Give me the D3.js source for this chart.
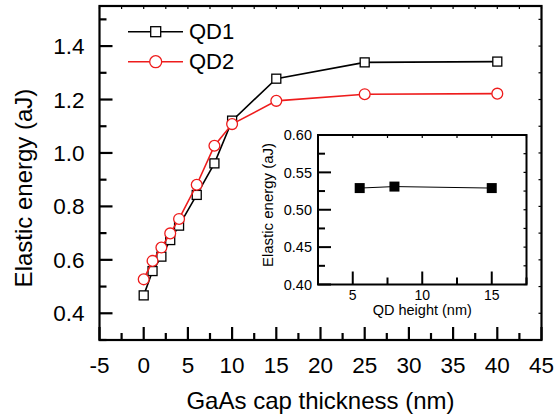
<!DOCTYPE html>
<html>
<head>
<meta charset="utf-8">
<script src="https://cdn.jsdelivr.net/npm/d3@7"></script>
<style>
  html, body { margin: 0; padding: 0; background: #fff; }
  svg { display: block; font-family: "Liberation Sans", Arial, sans-serif; }
</style>
</head>
<body>
<svg id="chart" width="558" height="418"></svg>
<script>
// ---- data ----
const capThickness = [0, 1, 2, 3, 4, 6, 8, 10, 15, 25, 40];
const qd1Energy = [0.467, 0.558, 0.612, 0.674, 0.728, 0.843, 0.961, 1.121, 1.278, 1.339, 1.342];
const qd2Energy = [0.527, 0.596, 0.646, 0.699, 0.753, 0.881, 1.027, 1.108, 1.195, 1.220, 1.222];
const seriesNames = ["QD1", "QD2"];
const xTicks = [-5, 0, 5, 10, 15, 20, 25, 30, 35, 40, 45];
const yTicks = [0.4, 0.6, 0.8, 1.0, 1.2, 1.4];
const insetHeight = [5.5, 8, 15];
const insetEnergy = [0.529, 0.531, 0.529];
const insetXTicks = [5, 10, 15];
const insetYTicks = [0.40, 0.45, 0.50, 0.55, 0.60];

const svg = d3.select("#chart");

// ---- main scales ----
const L = 99.5, R = 541.5, T = 6, B = 340;
const x = d3.scaleLinear().domain([-5, 45]).range([L, R]);
const y = d3.scaleLinear().domain([0.3, 1.55]).range([B, T]);

function drawAxes(g, xs, ys, opts) {
  const [x0, x1] = xs.range();
  const [y0, y1] = ys.range(); // y0 bottom, y1 top
  const lw = opts.lw;
  opts.xMinor.forEach(v => {
    const major = opts.xMajor.includes(v);
    g.append("line").attr("x1", xs(v)).attr("x2", xs(v))
      .attr("y1", y0).attr("y2", y0 - (major ? opts.majLen : opts.minLen))
      .attr("stroke", "#000").attr("stroke-width", lw);
    g.append("line").attr("x1", xs(v)).attr("x2", xs(v))
      .attr("y1", y1).attr("y2", y1 + opts.topLen)
      .attr("stroke", "#000").attr("stroke-width", 1.2);
  });
  opts.yMinor.forEach(v => {
    const major = opts.yMajor.some(m => Math.abs(m - v) < 1e-9);
    g.append("line").attr("y1", ys(v)).attr("y2", ys(v))
      .attr("x1", x0).attr("x2", x0 + (major ? opts.majLen : opts.minLen))
      .attr("stroke", "#000").attr("stroke-width", lw);
    g.append("line").attr("y1", ys(v)).attr("y2", ys(v))
      .attr("x1", x1).attr("x2", x1 - opts.topLen)
      .attr("stroke", "#000").attr("stroke-width", 1.2);
  });
  g.append("rect").attr("x", x0).attr("y", y1)
    .attr("width", x1 - x0).attr("height", y0 - y1)
    .attr("fill", "none").attr("stroke", "#000").attr("stroke-width", lw);
}

// main axes
const mainG = svg.append("g");
const xMinorMain = d3.range(-5, 45.01, 2.5);
const yMinorMain = d3.range(0.3, 1.551, 0.1).map(v => +v.toFixed(2));
drawAxes(mainG, x, y, {
  lw: 2.2, majLen: 13, minLen: 7, topLen: 3,
  xMinor: xMinorMain, xMajor: xTicks,
  yMinor: yMinorMain, yMajor: yTicks
});

mainG.selectAll(".xl").data(xTicks).enter().append("text")
  .attr("x", d => x(d)).attr("y", 373)
  .attr("text-anchor", "middle").attr("font-size", 22.5)
  .text(d => d);
mainG.selectAll(".yl").data(yTicks).enter().append("text")
  .attr("x", 84.5).attr("y", d => y(d) + 8)
  .attr("text-anchor", "end").attr("font-size", 22.5)
  .text(d => d.toFixed(1));

svg.append("text").attr("x", (L + R) / 2).attr("y", 409)
  .attr("text-anchor", "middle").attr("font-size", 24)
  .text("GaAs cap thickness (nm)");
svg.append("text").attr("transform", `translate(32,${(T + B) / 2 + 15}) rotate(-90)`)
  .attr("text-anchor", "middle").attr("font-size", 24)
  .text("Elastic energy (aJ)");

// ---- series ----
const line = d3.line().x(d => x(d[0])).y(d => y(d[1]));
const d1 = capThickness.map((c, i) => [c, qd1Energy[i]]);
const d2 = capThickness.map((c, i) => [c, qd2Energy[i]]);

svg.append("path").datum(d1).attr("d", line)
  .attr("fill", "none").attr("stroke", "#000").attr("stroke-width", 1.6);
svg.selectAll(".sq").data(d1).enter().append("rect")
  .attr("x", d => x(d[0]) - 4.5).attr("y", d => y(d[1]) - 4.5)
  .attr("width", 9).attr("height", 9)
  .attr("fill", "#fff").attr("stroke", "#000").attr("stroke-width", 1.3);

svg.append("path").datum(d2).attr("d", line)
  .attr("fill", "none").attr("stroke", "#ee1c1c").attr("stroke-width", 1.6);
svg.selectAll(".ci").data(d2).enter().append("circle")
  .attr("cx", d => x(d[0])).attr("cy", d => y(d[1])).attr("r", 5.4)
  .attr("fill", "#fff").attr("stroke", "#ee1c1c").attr("stroke-width", 1.3);

// ---- legend ----
const leg = svg.append("g");
const legY = [31.7, 61.7];
const legColors = ["#000", "#ee1c1c"];
seriesNames.forEach((name, i) => {
  leg.append("line").attr("x1", 128).attr("x2", 183)
    .attr("y1", legY[i]).attr("y2", legY[i])
    .attr("stroke", legColors[i]).attr("stroke-width", 1.6);
  if (i === 0) {
    leg.append("rect").attr("x", 155.7 - 5).attr("y", legY[i] - 5)
      .attr("width", 10).attr("height", 10)
      .attr("fill", "#fff").attr("stroke", "#000").attr("stroke-width", 1.3);
  } else {
    leg.append("circle").attr("cx", 155.7).attr("cy", legY[i]).attr("r", 6)
      .attr("fill", "#fff").attr("stroke", "#ee1c1c").attr("stroke-width", 1.3);
  }
  leg.append("text").attr("x", 189).attr("y", legY[i] + 7.5)
    .attr("font-size", 22).text(name);
});

// ---- inset ----
const iL = 318, iR = 526.5, iT = 135, iB = 284.5;
const ix = d3.scaleLinear().domain([2.5, 17.5]).range([iL, iR]);
const iy = d3.scaleLinear().domain([0.40, 0.60]).range([iB, iT]);
const inG = svg.append("g");
inG.append("rect").attr("x", iL).attr("y", iT).attr("width", iR - iL).attr("height", iB - iT)
  .attr("fill", "#fff");
drawAxes(inG, ix, iy, {
  lw: 2, majLen: 13, minLen: 7, topLen: 3,
  xMinor: d3.range(2.5, 17.51, 2.5), xMajor: insetXTicks,
  yMinor: d3.range(0.4, 0.601, 0.025).map(v => +v.toFixed(3)), yMajor: insetYTicks
});
inG.selectAll(".ixl").data(insetXTicks).enter().append("text")
  .attr("x", d => ix(d)).attr("y", 299.5)
  .attr("text-anchor", "middle").attr("font-size", 14)
  .text(d => d);
inG.selectAll(".iyl").data(insetYTicks).enter().append("text")
  .attr("x", 312).attr("y", d => iy(d) + 5.2)
  .attr("text-anchor", "end").attr("font-size", 14.5)
  .text(d => d.toFixed(2));
inG.append("text").attr("x", (iL + iR) / 2).attr("y", 315)
  .attr("text-anchor", "middle").attr("font-size", 14.5)
  .text("QD height (nm)");
inG.append("text").attr("transform", `translate(273,205) rotate(-90)`)
  .attr("text-anchor", "middle").attr("font-size", 15)
  .text("Elastic energy (aJ)");

const iline = d3.line().x(d => ix(d[0])).y(d => iy(d[1]));
const di = insetHeight.map((h, i) => [h, insetEnergy[i]]);
inG.append("path").datum(di).attr("d", iline)
  .attr("fill", "none").attr("stroke", "#000").attr("stroke-width", 1);
inG.selectAll(".isq").data(di).enter().append("rect")
  .attr("x", d => ix(d[0]) - 5).attr("y", d => iy(d[1]) - 5)
  .attr("width", 10).attr("height", 10).attr("fill", "#000");
</script>
</body>
</html>
